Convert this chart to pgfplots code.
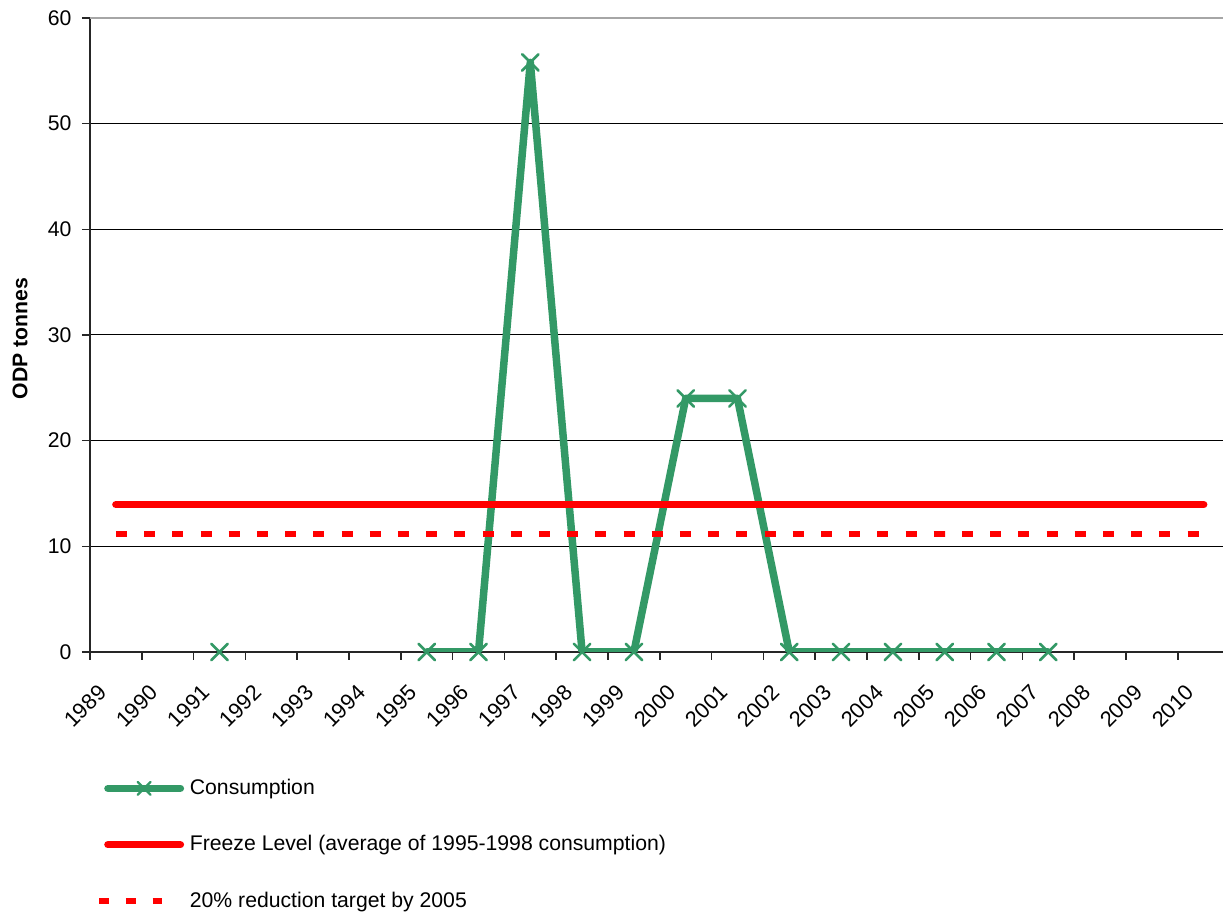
\documentclass[border=0pt]{standalone}
\usepackage{pgfplots}
\pgfplotsset{compat=1.18}
\usepackage{fontspec}
\setmainfont{Liberation Sans}
\definecolor{cons}{RGB}{51,153,102}
\definecolor{frz}{RGB}{255,0,0}

\begin{document}
\begin{tikzpicture}
\useasboundingbox (-45pt,-130.5pt) rectangle (566.5pt,326pt);
\begin{axis}[
  at={(0pt,0pt)}, anchor=south west,
  scale only axis, width=569.8pt, height=317pt,
  xmin=-0.5, xmax=21.5, ymin=0, ymax=60,
  font=\fontsize{10.6}{12.5}\selectfont,
  tick label style={font=\fontsize{10.6}{12.5}\selectfont},
  /pgf/number format/assume math mode=true,
  axis lines*=left,
  axis line style={black!85, line width=1pt},
  ytick={0,10,...,50},
  extra y ticks={60},
  extra y tick style={grid style={gray!70, line width=1.3pt}},
  ymajorgrids,
  grid style={black, line width=0.5pt},
  tick align=outside,
  major tick length=4pt,
  tick style={black!85, line width=0.8pt},
  xtick={-0.5,0.5,...,21.5},
  x tick label as interval,
  xticklabels={1989,1990,1991,1992,1993,1994,1995,1996,1997,1998,1999,2000,2001,2002,2003,2004,2005,2006,2007,2008,2009,2010},
  xticklabel style={font=\fontsize{10.9}{12.5}\selectfont, xshift=-9.5pt, yshift=-11.5pt, rotate=45, anchor=north east, inner sep=0pt},
  yticklabel style={xshift=-1.7pt},
  ylabel={\bfseries ODP tonnes},
  ylabel style={at={(axis description cs:-0.0614,0.494)}, anchor=center},
  unbounded coords=jump,
  legend style={at={(axis description cs:0.00439,-0.200)}, anchor=north west,
    draw=none, fill=none, inner sep=0pt, row sep=19pt,
    nodes={inner sep=0pt}, column sep=0pt,
    font=\fontsize{10.6}{12.5}\selectfont},
  legend cell align=left,
]
\addplot[cons, line width=3.75pt, line cap=round, line join=round,
  mark=x, mark size=5.8pt, mark options={line width=1.3pt, solid},
  legend image code/.code={
    \path (0pt,0pt) (43.5pt,0pt);
    \draw[cons, line width=3.75pt, line cap=round] (4.4pt,0pt) -- (40.6pt,0pt);
    \draw[cons, line width=1.1pt] (19.3pt,-3.2pt) -- (25.7pt,3.2pt) (19.3pt,3.2pt) -- (25.7pt,-3.2pt);
  }]
coordinates {
 (2,0) (3,nan) (4,nan) (5,nan)
 (6,0) (7,0) (8,55.8) (9,0) (10,0) (11,24) (12,24) (13,0)
 (14,0) (15,0) (16,0) (17,0) (18,0)
};
\addlegendentry{Consumption}
\addplot[frz, line width=3.75pt, line cap=round,
  legend image code/.code={\path (0pt,0pt) (43.5pt,0pt);
    \draw[frz, line width=3.75pt, line cap=round] (4.4pt,0pt) -- (40.6pt,0pt);}]
coordinates {
 (0,13.95) (1,13.95) (2,13.95) (3,13.95) (4,13.95) (5,13.95) (6,13.95)
 (7,13.95) (8,13.95) (9,13.95) (10,13.95) (11,13.95) (12,13.95) (13,13.95)
 (14,13.95) (15,13.95) (16,13.95) (17,13.95) (18,13.95) (19,13.95) (20,13.95) (21,13.95)
};
\addlegendentry{Freeze Level (average of 1995-1998 consumption)}
\addplot[frz, line width=3pt, dash pattern=on 5.5pt off 8.6pt,
  legend image code/.code={\path (0pt,0pt) (43.5pt,0pt);
    \draw[frz, line width=3pt, dash pattern=on 5pt off 8.35pt] (0pt,0pt) -- (31.5pt,0pt);}]
coordinates {
 (0,11.16) (1,11.16) (2,11.16) (3,11.16) (4,11.16) (5,11.16) (6,11.16)
 (7,11.16) (8,11.16) (9,11.16) (10,11.16) (11,11.16) (12,11.16) (13,11.16)
 (14,11.16) (15,11.16) (16,11.16) (17,11.16) (18,11.16) (19,11.16) (20,11.16) (21,11.16)
};
\addlegendentry{20\% reduction target by 2005}
\end{axis}
\end{tikzpicture}
\end{document}
